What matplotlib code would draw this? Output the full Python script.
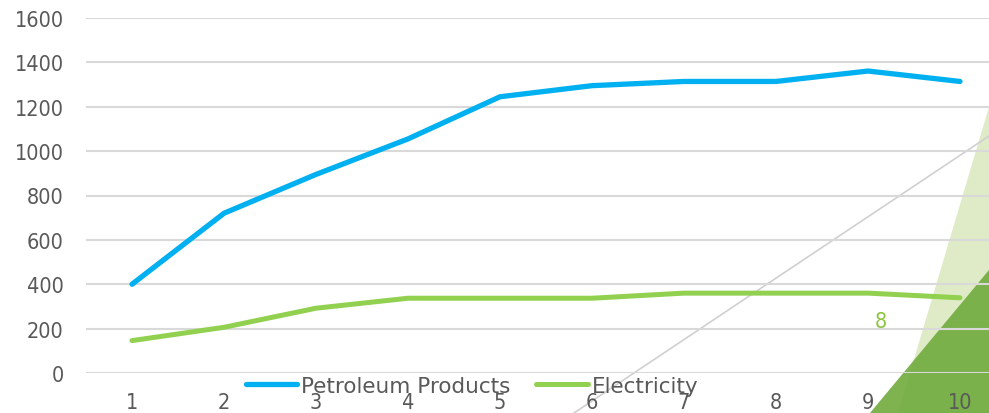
import matplotlib.pyplot as plt
from matplotlib.patches import Polygon
from matplotlib.lines import Line2D

# данные
years = [1, 2, 3, 4, 5, 6, 7, 8, 9, 10]
petroleum = [400, 720, 895, 1055, 1245, 1295, 1314, 1314, 1361, 1314]
electricity = [146, 206, 292, 337, 337, 337, 360, 360, 360, 339]
series_names = ['Petroleum Products', 'Electricity']
y_ticks = [0, 200, 400, 600, 800, 1000, 1200, 1400, 1600]

W, H = 989, 414
fig = plt.figure(figsize=(W / 100, H / 100), dpi=100)


def px(x, y):
    return (x / W, 1 - y / H)


# декоративные элементы слайда (фон)
fig.add_artist(Polygon([px(898, 414), px(989, 108), px(989, 414)], closed=True,
                       facecolor='#dfeac6', edgecolor='none', zorder=0))
fig.add_artist(Polygon([px(870, 414), px(989, 271), px(989, 414)], closed=True,
                       facecolor='#74ad42', edgecolor='none', alpha=0.93, zorder=0))
fig.add_artist(Line2D([574 / W, 1.0], [0.0, 1 - 137 / H], color='#d0d0d0',
                      linewidth=1.2, zorder=0))
fig.text(881 / W, 1 - 322 / H, '8', color='#8cc63f', fontsize=15.5,
         fontstretch='condensed', ha='center', va='center', zorder=0)

ax = fig.add_axes([86 / W, 1 - 374 / H, 920 / W, 355 / H])
ax.patch.set_visible(False)
ax.set_zorder(1)

font = dict(fontsize=15.5, fontstretch='condensed', color='#595959')

ax.plot(years, petroleum, color='#00b0f0', linewidth=3.8,
        solid_capstyle='round', label=series_names[0])
ax.plot(years, electricity, color='#92d050', linewidth=3.6,
        solid_capstyle='round', label=series_names[1])

ax.set_xlim(0.5, 10.5)
ax.set_ylim(0, 1600)
ax.set_xticks(years)
ax.set_xticklabels([str(y) for y in years], **font)
ax.set_yticks(y_ticks)
ax.set_yticklabels([str(v) for v in y_ticks], **font)
ax.tick_params(length=0)
ax.tick_params(axis='y', pad=16)
ax.tick_params(axis='x', pad=14)
ax.grid(axis='y', color='#d9d9d9', linewidth=1.5)
ax.set_axisbelow(True)
for s in ax.spines.values():
    s.set_visible(False)

leg = fig.legend(loc='center', bbox_to_anchor=(472 / W, 1 - 387 / H), ncol=2,
                 frameon=False, handlelength=2.4, handletextpad=0.18,
                 columnspacing=1.2, prop=dict(size=15.5))
for t in leg.get_texts():
    t.set_color('#595959')
leg.set_zorder(2)

fig.savefig('out.png', dpi=100)
